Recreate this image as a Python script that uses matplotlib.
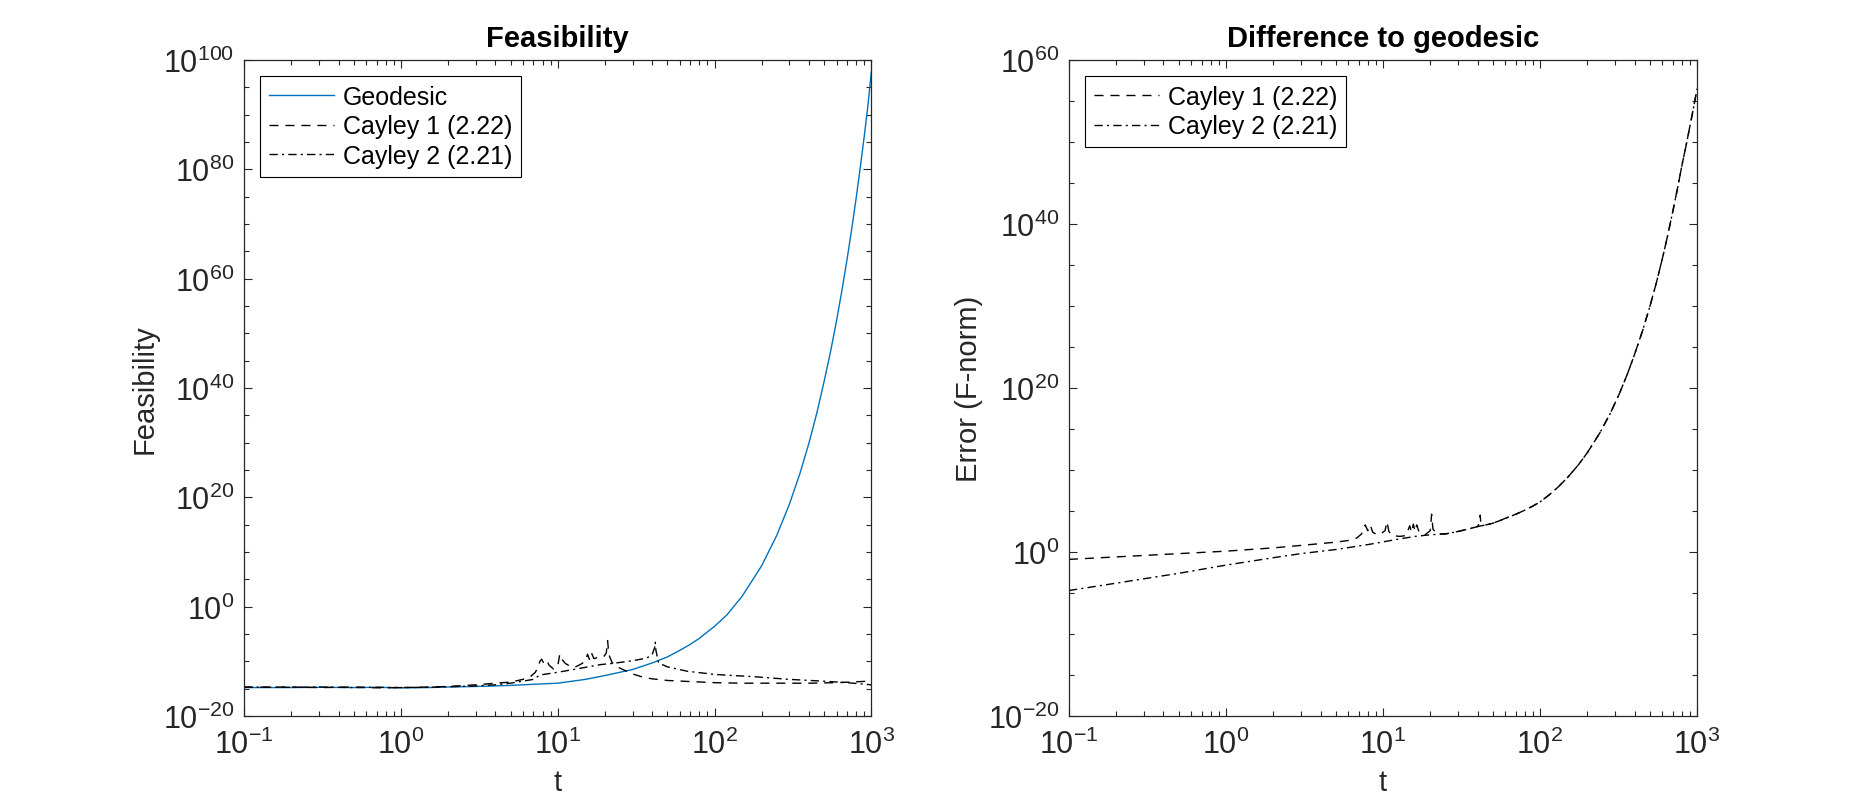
import numpy as np
import matplotlib
matplotlib.use("Agg")
import matplotlib.pyplot as plt
from matplotlib.ticker import FuncFormatter, FixedLocator, NullFormatter

plt.rcParams['font.family'] = ['Liberation Sans', 'DejaVu Sans']
plt.rcParams['mathtext.fontset'] = 'custom'
plt.rcParams['mathtext.rm'] = 'Liberation Sans'
plt.rcParams['mathtext.it'] = 'Liberation Sans:italic'
plt.rcParams['mathtext.bf'] = 'Liberation Sans:bold'
plt.rcParams['lines.scale_dashes'] = False

# ---------------- data (log10 of values) ----------------
t_geo = [0.1, 0.2, 0.3, 0.5, 0.7, 1, 1.5, 2, 3, 4, 5, 7, 10, 15, 20, 30, 40, 50,
         60, 70, 80, 100, 120, 150, 200, 250, 300, 350, 400, 450, 500, 550, 600,
         650, 700, 750, 800, 850, 900, 950, 1000]
lg_geo = [-14.8, -14.8, -14.75, -14.8, -14.75, -14.85, -14.8, -14.7, -14.6, -14.5,
          -14.4, -14.2, -14.0, -13.3, -12.6, -11.5, -10.3, -9.2, -8.0, -6.9, -5.8,
          -3.6, -1.5, 1.9, 7.5, 13.1, 18.7, 24.3, 29.9, 35.5, 41.2, 46.7, 52.3,
          57.9, 63.5, 69.1, 74.7, 80.3, 85.9, 91.5, 97.8]

t_c1_feas = [0.1, 0.2, 0.3, 0.5, 0.7, 1, 1.5, 2, 3, 4, 5, 6, 6.7, 7.2, 7.5, 7.7,
             7.9, 8.1, 8.3, 8.6, 8.8, 9.4, 10.0, 10.3, 10.6, 11.2, 12.0, 12.8, 13.9,
             15.0, 15.5, 16.0, 16.5, 17.0, 18.0, 19.6, 20.4, 20.8, 21.2, 22.2, 24,
             26, 30, 35, 40, 50, 70, 100, 150, 200, 300, 400, 600, 800, 1000]
lg_c1_feas = [-14.75, -14.7, -14.8, -14.7, -14.85, -14.8, -14.7, -14.6, -14.3,
              -14.0, -13.8, -13.3, -12.8, -12.0, -11.0, -10.0, -9.6, -10.2, -9.7,
              -10.1, -10.7, -11.4, -10.9, -8.7, -9.6, -10.4, -10.9, -11.1, -10.6,
              -10.0, -8.7, -9.8, -8.6, -9.5, -9.3, -9.2, -8.5, -6.2, -8.8, -10.2,
              -11.0, -11.5, -12.3, -12.9, -13.2, -13.5, -13.7, -13.9, -14.0, -14.0,
              -14.0, -14.0, -13.9, -13.75, -13.6]

t_c2_feas = [0.1, 0.2, 0.3, 0.5, 0.7, 1, 1.5, 2, 3, 4, 5, 7, 7.7, 10, 12.6, 15,
             18.7, 22, 25, 30, 37, 40, 41.5, 41.9, 42.3, 44, 50, 66.7, 100, 177,
             300, 473, 700, 1000]
lg_c2_feas = [-14.7, -14.75, -14.7, -14.8, -14.75, -14.8, -14.75, -14.65, -14.5,
              -14.3, -14.0, -13.3, -12.5, -12.0, -11.5, -11.1, -10.6, -10.4, -10.2,
              -9.9, -9.4, -8.8, -7.5, -6.5, -8.0, -10.3, -11.0, -11.8, -12.4, -12.8,
              -13.3, -13.6, -13.9, -14.3]

t_c1_err = [0.1, 0.2, 0.5, 1, 2, 3, 5, 6, 6.8, 7.3, 7.7, 8.0, 8.3, 8.6, 9.2, 9.8,
            10.3, 10.6, 10.9, 11.5, 12.8, 14, 14.8, 15.2, 15.6, 16.0, 16.4, 17,
            18.5, 20.0, 20.4, 20.8, 22, 25, 30, 35, 40, 41.3, 41.6, 42, 45, 50,
            55, 60, 70, 80, 90, 100, 115, 130, 150, 175, 200, 240, 280, 320, 360,
            400, 450, 500, 550, 600, 650, 700, 750, 800, 850, 900, 950, 1000]
lg_c1_err = [-0.9, -0.6, -0.2, 0.1, 0.5, 0.8, 1.2, 1.4, 1.7, 2.2, 3.3, 2.6, 3.3,
             2.4, 2.1, 2.3, 2.6, 3.7, 2.5, 2.0, 1.9, 2.0, 3.2, 2.4, 3.4, 2.5, 3.3,
             2.4, 2.1, 2.6, 4.6, 2.8, 2.2, 2.2, 2.5, 2.8, 3.1, 3.6, 4.5, 3.4, 3.3,
             3.5, 3.8, 4.1, 4.6, 5.1, 5.6, 6.1, 7.0, 7.9, 9.1, 10.6, 12.1, 14.5,
             16.9, 19.3, 21.7, 24.1, 27.0, 29.9, 32.8, 35.7, 38.6, 41.5, 44.3,
             47.1, 49.5, 51.9, 54.2, 56.5]

t_c2_err = [0.1, 0.2, 0.5, 1, 2, 3, 5, 8, 12.8, 16, 20, 25, 30, 35, 40, 45, 50,
            55, 60, 70, 80, 90, 100, 115, 130, 150, 175, 200, 240, 280, 320, 360,
            400, 450, 500, 550, 600, 650, 700, 750, 800, 850, 900, 950, 1000]
lg_c2_err = [-4.7, -3.8, -2.6, -1.6, -0.7, -0.2, 0.3, 0.9, 1.6, 1.9, 2.1, 2.2, 2.5,
             2.8, 3.1, 3.3, 3.5, 3.8, 4.1, 4.6, 5.1, 5.6, 6.1, 7.0, 7.9, 9.1, 10.6,
             12.1, 14.5, 16.9, 19.3, 21.7, 24.1, 27.0, 29.9, 32.8, 35.7, 38.6, 41.5,
             44.3, 47.1, 49.5, 51.9, 54.2, 56.5]

labels_left = ["Geodesic", "Cayley 1 (2.22)", "Cayley 2 (2.21)"]
labels_right = ["Cayley 1 (2.22)", "Cayley 2 (2.21)"]

# ---------------- styling ----------------
BLUE = "#0072BD"
AXC = "#262626"
DASH = (0, (6.5, 5.0))
DASHDOT = (0, (6.0, 3.0, 1.5, 3.0))
LW = 1.0

fig = plt.figure(figsize=(18.75, 8.12), dpi=100)
ax1 = fig.add_axes([0.1302, 0.1170, 0.3345, 0.8079])
ax2 = fig.add_axes([0.5701, 0.1170, 0.3350, 0.8079])


def pow_fmt(v, pos):
    e = int(round(np.log10(v)))
    if e < 0:
        return r"$\mathregular{10^{-%d}}$" % (-e)
    return r"$\mathregular{10^{%d}}$" % e


def style(ax, ymin, ymax):
    ax.set_xscale('log')
    ax.set_yscale('log')
    ax.set_xlim(0.1, 1000)
    ax.set_ylim(10.0 ** ymin, 10.0 ** ymax)
    ax.xaxis.set_major_locator(FixedLocator([0.1, 1, 10, 100, 1000]))
    minors = [m * 10.0 ** d for d in range(-1, 3) for m in range(2, 10)]
    ax.xaxis.set_minor_locator(FixedLocator(minors))
    ax.yaxis.set_major_locator(FixedLocator([10.0 ** e for e in range(ymin, ymax + 1, 20)]))
    ax.yaxis.set_minor_locator(FixedLocator([10.0 ** e for e in range(ymin, ymax + 1, 5)
                                             if (e - ymin) % 20 != 0]))
    ax.xaxis.set_major_formatter(FuncFormatter(pow_fmt))
    ax.yaxis.set_major_formatter(FuncFormatter(pow_fmt))
    ax.xaxis.set_minor_formatter(NullFormatter())
    ax.yaxis.set_minor_formatter(NullFormatter())
    ax.tick_params(which='both', direction='in', top=True, right=True,
                   colors=AXC, width=0.8, labelsize=22)
    ax.tick_params(which='major', length=6)
    ax.tick_params(which='minor', length=3.5)
    ax.tick_params(axis='x', which='major', pad=9)
    ax.tick_params(axis='y', which='major', pad=7)
    for s in ax.spines.values():
        s.set_color(AXC)
        s.set_linewidth(0.9)


style(ax1, -20, 100)
ax1.plot(t_geo, 10.0 ** np.array(lg_geo), color=BLUE, lw=LW, label=labels_left[0])
ax1.plot(t_c1_feas, 10.0 ** np.array(lg_c1_feas), color='black', lw=LW,
         linestyle=DASH, label=labels_left[1])
ax1.plot(t_c2_feas, 10.0 ** np.array(lg_c2_feas), color='black', lw=LW,
         linestyle=DASHDOT, label=labels_left[2])
ax1.set_title("Feasibility", fontsize=21, fontweight='bold', pad=10)
ax1.set_xlabel("t", fontsize=21, color=AXC, labelpad=6)
ax1.set_ylabel("Feasibility", fontsize=21, color=AXC, labelpad=3)

style(ax2, -20, 60)
ax2.plot(t_c1_err, 10.0 ** np.array(lg_c1_err), color='black', lw=LW,
         linestyle=DASH, label=labels_right[0])
ax2.plot(t_c2_err, 10.0 ** np.array(lg_c2_err), color='black', lw=LW,
         linestyle=DASHDOT, label=labels_right[1])
ax2.set_title("Difference to geodesic", fontsize=21, fontweight='bold', pad=10)
ax2.set_xlabel("t", fontsize=21, color=AXC, labelpad=6)
ax2.set_ylabel("Error (F-norm)", fontsize=21, color=AXC, labelpad=3)

for ax in (ax1, ax2):
    leg = ax.legend(loc='upper left', fontsize=18, frameon=True, fancybox=False,
                    edgecolor='black', handlelength=2.6, handletextpad=0.35,
                    borderpad=0.35, labelspacing=0.22, borderaxespad=0.65)
    leg.get_frame().set_linewidth(0.8)
    leg.get_frame().set_alpha(1.0)

fig.savefig("out.png", dpi=100)
